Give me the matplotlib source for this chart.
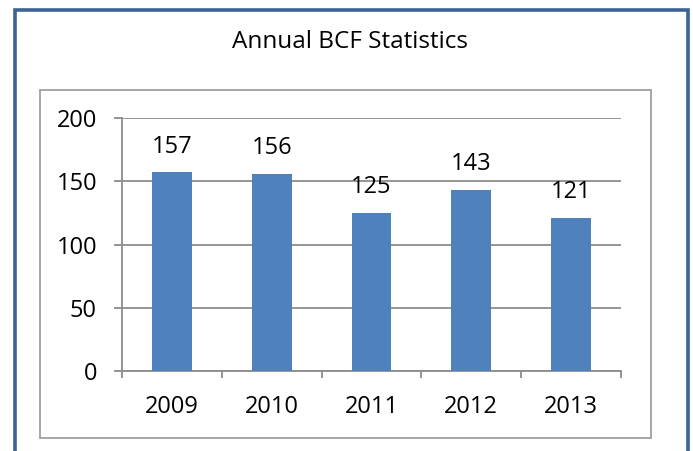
import numpy as np
import matplotlib.pyplot as plt
from matplotlib.lines import Line2D
from matplotlib.patches import Rectangle

years = ['2009', '2010', '2011', '2012', '2013']
counts = [157, 156, 125, 143, 121]

W, H = 693, 451
plt.rcParams['font.family'] = ['Open Sans', 'DejaVu Sans']

fig = plt.figure(figsize=(W / 100, H / 100), dpi=100)

def fx(px):
    return px / W

def fy(py):
    return 1 - py / H

# outer blue frame (open at the bottom)
blue = '#3B6397'
fig.add_artist(Line2D([fx(14.5), fx(14.5), fx(687.5), fx(687.5)],
                      [fy(460), fy(9.5), fy(9.5), fy(460)],
                      color=blue, lw=2.6, solid_joinstyle='miter'))
# inner grey chart box
fig.add_artist(Rectangle((fx(39.5), fy(437.5)), fx(650.5) - fx(39.5), fy(89.5) - fy(437.5),
                         fill=False, edgecolor='#A0A0A0', lw=1.3))

fig.text(fx(350), fy(42.5), 'Annual BCF Statistics', ha='center', va='center', fontsize=17.5)

ax = fig.add_axes([fx(122), fy(371), fx(621) - fx(122), fy(118) - fy(371)])
x = np.arange(len(years))
bars = ax.bar(x, counts, width=0.4, color='#4F81BD', zorder=3)
for xi, v in zip(x, counts):
    ax.annotate(str(v), (xi, v), xytext=(0, 10), textcoords='offset points',
                ha='center', va='bottom', fontsize=17)

grid_c = '#8C8C8C'
ax.set_xlim(-0.5, len(years) - 0.5)
ax.set_ylim(0, 200)
ax.set_yticks([0, 50, 100, 150, 200])
ax.yaxis.grid(True, color=grid_c, lw=1.3)
ax.set_axisbelow(True)
for s in ['top', 'right']:
    ax.spines[s].set_visible(False)
for s in ['left', 'bottom']:
    ax.spines[s].set_color(grid_c)
    ax.spines[s].set_linewidth(1.3)
ax.set_xticks(x)
ax.set_xticklabels(years)
ax.set_xticks(np.arange(-0.5, len(years)), minor=True)
ax.tick_params(axis='x', which='major', length=0, pad=17, labelsize=17)
ax.tick_params(axis='x', which='minor', length=5, width=1.3, color=grid_c)
ax.tick_params(axis='y', length=6, width=1.3, color=grid_c, pad=12, labelsize=17)

fig.savefig('out.png', dpi=100)
